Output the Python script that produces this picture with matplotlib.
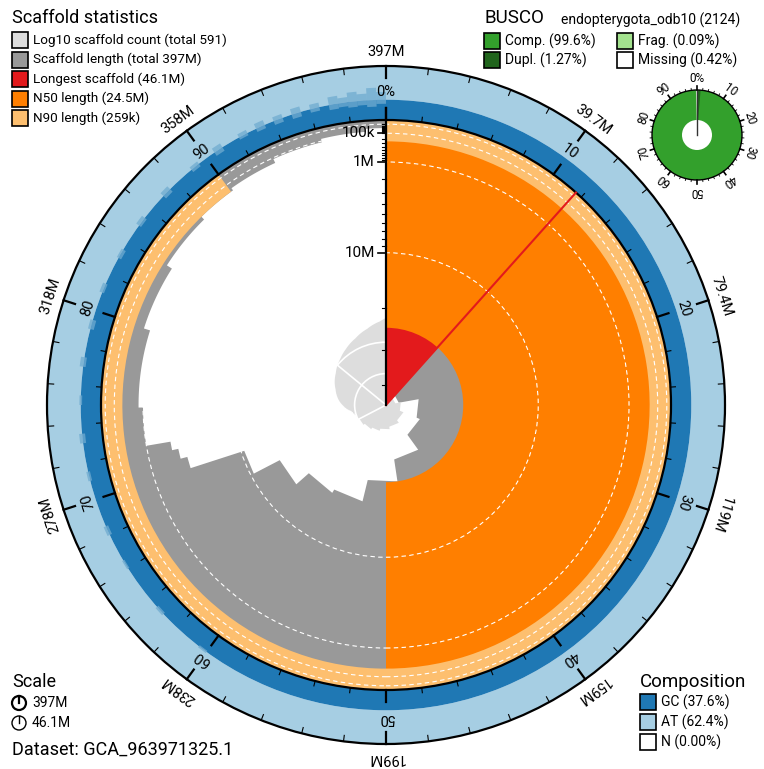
import numpy as np
import matplotlib.pyplot as plt
from matplotlib.patches import Wedge, Rectangle, Circle, Polygon

plt.rcParams['font.family'] = ['Roboto', 'DejaVu Sans']

# ---- data ----
# scaffold lengths in Mb, largest first
big_lengths = [46.1, 42.0, 36.0, 35.0, 30.0, 24.5, 19.6, 18.8, 15.5, 10.5, 3.6, 3.0, 2.5]
# the many small scaffolds, as (count, length Mb) groups
tail_counts = [10, 25, 30, 40, 38, 60, 100, 150, 125]
tail_lengths = [1.0, 0.8, 0.55, 0.36, 0.26, 0.2, 0.12, 0.07, 0.037]

n_scaffolds = 591
total_label = '397M'
longest = 46.1
n50 = 24.5
n90 = 0.259
gc_pct = 37.6
at_pct = 62.4
n_pct = 0.0

outer_labels = ['397M', '39.7M', '79.4M', '119M', '159M', '199M', '238M', '278M', '318M', '358M']
radial_ticks = [0.01, 0.02, 0.03, 0.04, 0.05, 0.06, 0.07, 0.08, 0.09,
                0.1, 0.2, 0.3, 0.4, 0.5, 0.6, 0.7, 0.8, 0.9,
                1, 2, 3, 4, 5, 6, 7, 8, 9, 10, 20, 30, 40]
radial_labels = {0.1: '100k', 1: '1M', 10: '10M'}

# GC spread in small-scaffold bins (start %, low GC %, high GC %)
gc_bin_pct = [60, 63, 66, 68, 71, 73, 75, 77, 79, 81, 83, 85, 87, 89, 90.5, 92, 93,
              94, 95, 96, 97, 97.5, 98, 98.5, 99, 99.5]
gc_lo = [35, 34, 35, 33, 34, 32, 35, 33, 31, 34, 32, 33, 31, 32, 30, 33, 31,
         30, 29, 31, 28, 30, 27, 29, 25, 30]
gc_hi = [40, 41, 40, 42, 41, 43, 40, 44, 42, 43, 41, 44, 45, 43, 46, 44, 47,
         45, 48, 46, 52, 47, 55, 50, 60, 52]

busco_total = 2124
busco_lineage = 'endopterygota_odb10'
busco_comp = 99.6
busco_dupl = 1.27
busco_frag = 0.09
busco_missing = 0.42

# ---- geometry (pixels) ----
W, H = 764, 769
cx, cy = 386, H - 405
R = 285          # scaffold area radius
R2 = 339         # composition ring outer radius
k_count = 31.4   # px per decade of scaffold count

fig = plt.figure(figsize=(W / 100, H / 100), dpi=100)
ax = fig.add_axes([0, 0, 1, 1])
ax.set_xlim(0, W)
ax.set_ylim(0, H)
ax.set_aspect('equal')
ax.axis('off')

lengths = np.concatenate([big_lengths, np.repeat(tail_lengths, tail_counts)])
total = lengths.sum()
cum = np.concatenate([[0], np.cumsum(lengths)])
a_start = cum[:-1] / total * 360
a_end = cum[1:] / total * 360


def rlen(L):
    return R * (1 - np.sqrt(np.asarray(L) / longest))


def pt(a, r, x0=cx, y0=cy):
    t = np.radians(a)
    return x0 + r * np.sin(t), y0 + r * np.cos(t)


def wedge(r, a0, a1, width=None, x0=cx, y0=cy, **kw):
    ax.add_patch(Wedge((x0, y0), r, 90 - a1, 90 - a0, width=width, **kw))


def arc_pts(r, a0, a1):
    n = max(2, int((a1 - a0) * 2) + 2)
    aa = np.linspace(a0, a1, n)
    return [pt(a, r) for a in aa]


def gc_r(g):
    return R + (R2 - R) * g / 100


# composition ring
wedge(R2, 0, 360, width=R2 - gc_r(gc_pct), color='#a6cee3', lw=0)
wedge(gc_r(gc_pct), 0, 360, width=gc_r(gc_pct) - R, color='#1f78b4', lw=0)
for p, lo, hi in zip(gc_bin_pct, gc_lo, gc_hi):
    a0 = p * 3.6
    a1 = a0 + 1.8
    wedge(gc_r(gc_pct), a0, a1, width=gc_r(gc_pct) - gc_r(lo), color='#a6cee3', alpha=0.45, lw=0)
    wedge(gc_r(hi), a0, a1, width=gc_r(hi) - gc_r(gc_pct), color='#1f78b4', alpha=0.3, lw=0)

# scaffold length distribution (dark grey)
r_sc = rlen(lengths)
inner = []
for a0, a1, r in zip(a_start, a_end, r_sc):
    inner += [pt(a0, r), pt(a1, r)]
outer = arc_pts(R, 0, 360)
ax.add_patch(Polygon(outer + inner[::-1], closed=True, color='#999999', lw=0))

# log10 scaffold count (light grey)
cnt_pts = [(cx, cy)]
for i, (a0, a1) in enumerate(zip(a_start, a_end)):
    r = k_count * np.log10(i + 1)
    cnt_pts += [pt(a0, r), pt(a1, r)]
cnt_pts += [(cx, cy)]
ax.add_patch(Polygon(cnt_pts, closed=True, color='#dddddd', lw=0))
for dec in [1, 2]:
    first = 10 ** dec - 1
    ax.add_patch(Wedge((cx, cy), k_count * dec, 90 - 360, 90 - a_start[first],
                       width=None, fill=False, ec='white', lw=1.2))

# longest, N50, N90
a_long = longest / total * 360
wedge(R, 0, a_long, color='#e31a1c', lw=0)
wedge(R, 0, 180, width=R - rlen(n50), color='#ff7f00', lw=0)
wedge(R, 0, 324, width=R - rlen(n90), color='#fdbf6f', lw=0)
x1, y1 = pt(a_long, R)
ax.plot([cx, x1], [cy, y1], color='#e31a1c', lw=1.5)

# dashed grid circles
for L in [0.01, 0.1, 1, 10]:
    ax.add_patch(Circle((cx, cy), rlen(L), fill=False, ec='white', lw=0.8,
                        ls=(0, (4, 3))))

# circles
ax.add_patch(Circle((cx, cy), R, fill=False, ec='black', lw=1.6))
ax.add_patch(Circle((cx, cy), R2, fill=False, ec='black', lw=1.6))

# outer ticks (length), inner ticks (percent)
for p in range(0, 100, 2):
    a = p * 3.6
    major = p % 10 == 0
    ln = 12 if major else 6
    xa, ya = pt(a, R2)
    xb, yb = pt(a, R2 - ln)
    ax.plot([xa, xb], [ya, yb], color='black', lw=1.6 if major else 0.8)
    ln2 = 12 if major else 5
    xa, ya = pt(a, R)
    xb, yb = pt(a, R + ln2)
    ax.plot([xa, xb], [ya, yb], color='black', lw=1.6 if major else 0.8)
    if major:
        xt, yt = pt(a, R2 + 14)
        ax.text(xt, yt, outer_labels[p // 10], rotation=-a, ha='center', va='center',
                fontsize=10.5, rotation_mode='anchor')
        xt, yt = pt(a, R + 28)
        lab = '0%' if p == 0 else str(p)
        ax.text(xt, yt, lab, rotation=-a, ha='center', va='center',
                fontsize=10.5, rotation_mode='anchor')

# radial axis
ax.plot([cx, cx], [cy, cy + R + 12], color='black', lw=1.6)
for L in radial_ticks:
    r = rlen(L)
    major = L in radial_labels
    ln = 8 if major else 4
    ax.plot([cx - ln, cx], [cy + r, cy + r], color='black', lw=1.2 if major else 0.8)
    if major:
        ax.text(cx - 11, cy + r, radial_labels[L], ha='right', va='center', fontsize=11)

# ---- BUSCO mini plot ----
bx, by = 697, H - 135
bR, bh = 45, 15
wedge(bR, 0, 360, width=bR - bh, x0=bx, y0=by, color='#33a02c', lw=0)
wedge(bR, 0, busco_dupl * 3.6, width=bR - bh, x0=bx, y0=by, color='#20641c', lw=0)
f0 = busco_comp * 3.6
wedge(bR, f0, f0 + busco_frag * 3.6, width=bR - bh, x0=bx, y0=by, color='#a3e28e', lw=0)
m0 = (busco_comp + busco_frag) * 3.6
wedge(bR, m0, 360, width=bR - bh, x0=bx, y0=by, color='white', lw=0)
ax.add_patch(Circle((bx, by), bR, fill=False, ec='black', lw=1.0))
ax.plot([bx, bx], [by, by + bR], color='#333333', lw=1.0)
for p in range(0, 100, 2):
    a = p * 3.6
    major = p % 10 == 0
    xa, ya = pt(a, bR, bx, by)
    xb, yb = pt(a, bR + (4 if major else 2), bx, by)
    ax.plot([xa, xb], [ya, yb], color='black', lw=1.2 if major else 0.6)
    if major:
        xt, yt = pt(a, bR + 11, bx, by)
        ax.text(xt, yt, '0%' if p == 0 else str(p), rotation=-a, ha='center', va='center',
                fontsize=8.5, rotation_mode='anchor')

# ---- legends ----
def patch(x, y, c):
    ax.add_patch(Rectangle((x, H - y - 8), 16, 16, fc=c, ec='black', lw=1.2))

ax.text(12, H - 18, 'Scaffold statistics', fontsize=13, va='center')
sc_items = [('#dddddd', 'Log10 scaffold count (total %d)' % n_scaffolds),
            ('#999999', 'Scaffold length (total %s)' % total_label),
            ('#e31a1c', 'Longest scaffold (%.1fM)' % longest),
            ('#ff7f00', 'N50 length (%.1fM)' % n50),
            ('#fdbf6f', 'N90 length (%dk)' % round(n90 * 1000))]
for i, (c, t) in enumerate(sc_items):
    y = 40 + i * 19.5
    patch(12, y, c)
    ax.text(33, H - y, t, fontsize=9.7, va='center')

ax.text(485, H - 18, 'BUSCO', fontsize=13.5, va='center')
ax.text(561, H - 20, '%s (%d)' % (busco_lineage, busco_total), fontsize=10, va='center')
bu_items = [(484, 41, '#33a02c', 'Comp. (%.1f%%)' % busco_comp),
            (617, 41, '#a3e28e', 'Frag. (%.2f%%)' % busco_frag),
            (484, 60, '#20641c', 'Dupl. (%.2f%%)' % busco_dupl),
            (617, 60, 'white', 'Missing (%.2f%%)' % busco_missing)]
for x, y, c, t in bu_items:
    patch(x, y, c)
    ax.text(x + 21, H - y, t, fontsize=10, va='center')

ax.text(12, H - 682, 'Scale', fontsize=13, va='center')
for y, t, lw in [(703, total_label, 1.6), (723, '%.1fM' % longest, 1.0)]:
    ax.add_patch(Circle((19, H - y), 7, fill=False, ec='black', lw=lw))
    ax.plot([19, 19], [H - y, H - y + 7], color='black', lw=lw)
    ax.text(32, H - y, t, fontsize=10, va='center')
ax.text(12, H - 750, 'Dataset: GCA_963971325.1', fontsize=13, va='center')

ax.text(640, H - 682, 'Composition', fontsize=13.5, va='center')
co_items = [('#1f78b4', 'GC (%.1f%%)' % gc_pct), ('#a6cee3', 'AT (%.1f%%)' % at_pct),
            ('white', 'N (%.2f%%)' % n_pct)]
for i, (c, t) in enumerate(co_items):
    y = 702 + i * 20
    patch(640, y, c)
    ax.text(661, H - y, t, fontsize=10, va='center')

fig.savefig('out.png', dpi=100)
